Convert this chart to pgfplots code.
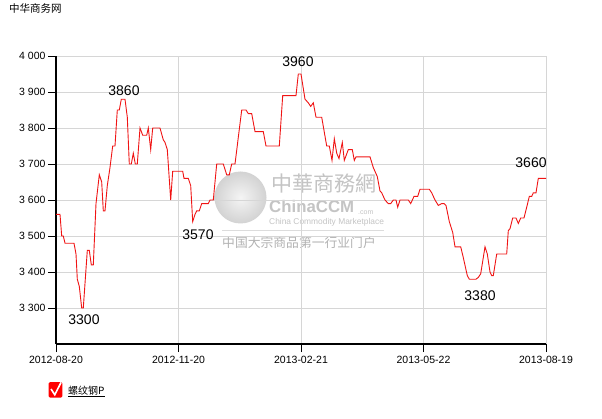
\documentclass[border=0pt]{standalone}
\usepackage{pgfplots}
\pgfplotsset{compat=1.18}
\usepackage{fontspec}
\setmainfont{Liberation Sans}
\newfontfamily\cjk{Noto Sans CJK SC}
\definecolor{gridgray}{RGB}{214,214,214}
\definecolor{wm}{RGB}{196,196,196}
\definecolor{linered}{RGB}{240,20,20}
\begin{document}
\begin{tikzpicture}[x=1pt,y=1pt]
\path[use as bounding box] (0,0) rectangle (602,418);
\fill[white] (0,0) rectangle (602,418);
% title
\node[anchor=west, inner sep=0pt, font=\cjk\fontsize{10.5}{12}\selectfont] at (9,410) {中华商务网};
% watermark
\shade[inner color=gray!8, outer color=gray!35] (240.5,220.5) circle (26);
\node[inner sep=0pt, text=wm, font=\cjk\fontsize{21}{24}\selectfont] at (323.5,234.5) {中華商務網};
\node[anchor=west, inner sep=0pt, text=wm, font=\bfseries\fontsize{16.8}{20}\selectfont] at (269,212) {ChinaCCM};
\node[anchor=west, inner sep=0pt, text=wm, font=\fontsize{7}{9}\selectfont] at (358,205.5) {.com};
\node[anchor=west, inner sep=0pt, text=wm, font=\fontsize{8.4}{10}\selectfont] at (269,195.5) {China Commodity Marketplace};
\draw[wm!60, line width=0.6pt] (222,188) -- (384,188);
\node[anchor=west, inner sep=0pt, text=gray!60, font=\cjk\fontsize{12.8}{15}\selectfont] at (222,175) {中国大宗商品第一行业门户};
\begin{axis}[
  at={(56pt,74pt)}, anchor=south west,
  width=490pt, height=288pt, scale only axis,
  xmin=0, xmax=490, ymin=3200, ymax=4000,
  axis x line*=bottom, axis y line*=left,
  axis line style={-, black, line width=2.2pt},
  xtick={0,122.5,245,367.5,490},
  xticklabels={2012-08-20,2012-11-20,2013-02-21,2013-05-22,2013-08-19},
  ytick={3300,3400,3500,3600,3700,3800,3900,4000},
  yticklabels={3 300,3 400,3 500,3 600,3 700,3 800,3 900,4 000},
  grid=major,
  major grid style={gridgray, line width=0.8pt},
  tick align=outside, major tick length=8pt,
  tick style={black, line width=1pt},
  xticklabel style={font=\fontsize{10.5}{12}\selectfont, yshift=-1pt},
  yticklabel style={font=\fontsize{10.5}{12}\selectfont, xshift=1pt},
  clip=false,
]
\addplot[linered, line width=0.9pt] coordinates {
(0,3560) (4,3560) (5.7,3500) (7.3,3500) (9,3480) (18,3480) (20,3450) (21.3,3380)
(23.3,3360) (25.7,3300) (27.3,3300) (31.3,3460) (33.3,3460) (35.3,3420) (37.3,3420)
(40,3590) (43.3,3670) (45.7,3650) (47.3,3570) (49,3570) (51.3,3640) (54,3690)
(56.7,3750) (59,3750) (61.3,3850) (63.3,3850) (65.3,3880) (69,3880) (71.3,3830)
(73.3,3700) (75.3,3700) (77.3,3730) (79.3,3700) (81.3,3700) (84,3800) (86.7,3780)
(90.7,3780) (92.3,3800) (94.7,3740) (96.7,3800) (104,3800) (107.3,3767) (109,3760)
(111.3,3740) (114.7,3600) (116.7,3680) (126.7,3680) (128,3660) (132.3,3660)
(134.7,3640) (136.7,3540) (139,3560) (140.7,3570) (143.3,3570) (145.7,3590)
(152.3,3590) (154,3600) (157.3,3600) (160.7,3700) (167.3,3700) (170.7,3670)
(173.3,3670) (175.7,3700) (179,3700) (185.7,3850) (190,3850) (192.3,3840)
(195.7,3840) (199,3790) (207.3,3790) (210,3750) (223.3,3750) (226.7,3890)
(240,3890) (242.3,3950) (245,3950) (249,3880) (252.3,3870) (254.7,3860)
(257.3,3870) (260,3830) (265.7,3830) (270.7,3750) (273.3,3750) (276,3710)
(278.3,3770) (280.7,3730) (283,3715) (286.3,3760) (288.3,3710) (292.3,3740)
(296.3,3740) (298.3,3710) (300,3720) (314,3720) (317.3,3690) (321.3,3665)
(324,3625) (325.7,3620) (329,3600) (332.3,3590) (334.7,3590) (337.3,3600)
(340,3600) (341.7,3580) (344,3600) (352.3,3600) (354.7,3590) (358,3610)
(361.7,3610) (364,3630) (373.3,3630) (375.7,3620) (379,3600) (382.3,3585)
(385.7,3590) (388,3590) (390,3585) (393.3,3540) (396.7,3510) (399,3470)
(404.7,3470) (407.3,3440) (411.3,3390) (413.3,3380) (420,3380) (422.3,3385)
(424.7,3395) (429,3470) (431.3,3450) (434,3400) (435.7,3390) (437.3,3390)
(440.7,3450) (450.7,3450) (452.3,3515) (454,3520) (456.7,3550) (460,3550)
(462.3,3535) (464.7,3550) (468,3550) (470.7,3580) (473.3,3610) (475.7,3610)
(477.3,3620) (480,3620) (482.3,3660) (490,3660)
};
\begin{scope}[every node/.style={font=\fontsize{14}{16}\selectfont, inner sep=0pt}]
\node at (axis cs:28,3267) {3300};
\node at (axis cs:68,3903) {3860};
\node at (axis cs:142,3503) {3570};
\node at (axis cs:242,3983) {3960};
\node at (axis cs:424,3333) {3380};
\node at (axis cs:475,3703) {3660};
\end{scope}
\end{axis}
% legend
\fill[red, rounded corners=1.5pt] (48.7,20.3) rectangle (62.3,36);
\draw[white, line width=1.6pt] (51,29) -- (54.8,23.2) -- (61,35.5);
\node[anchor=west, inner sep=0pt, font=\cjk\fontsize{10}{12}\selectfont] at (68,26.5) {\underline{螺纹钢P}};
\end{tikzpicture}
\end{document}
